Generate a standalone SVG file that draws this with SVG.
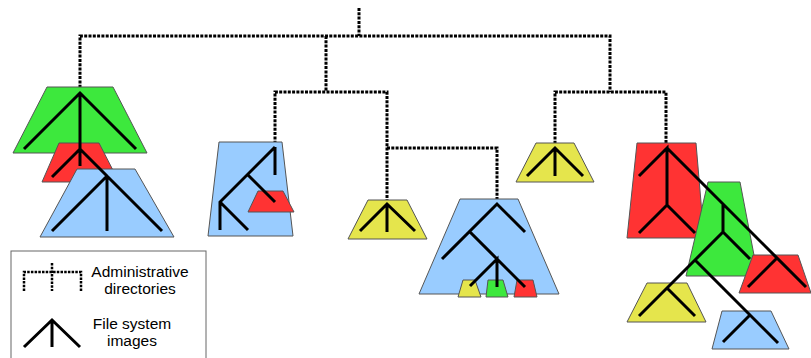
<svg xmlns="http://www.w3.org/2000/svg" width="811" height="358" viewBox="0 0 811 358">
<style>
.g{fill:#3de83d;stroke:#555;stroke-width:1}
.r{fill:#ff3333;stroke:#555;stroke-width:1}
.b{fill:#99ccff;stroke:#555;stroke-width:1}
.y{fill:#e5e54c;stroke:#555;stroke-width:1}
.t{fill:none;stroke:#000;stroke-width:3}
.d{fill:none;stroke:#000;stroke-width:3;stroke-dasharray:3 1.3}
.dl{fill:none;stroke:#000;stroke-width:2.5;stroke-dasharray:2.5 1.2}
.lbl{font-family:"Liberation Sans",Arial,sans-serif;font-size:15.5px;fill:#000;text-anchor:middle}
</style>
<rect width="811" height="358" fill="#fff"/>
<g id="connectors">
<path class="d" d="M359 8V36M80 92V36H610V92M326 36V92M275 148V92H387V203M387 148H497V204M555 148V92H666V148"/>
</g>
<g id="image-left">
<polygon class="g" points="47,87 113,87 147,153 13,153"/>
<polygon class="r" points="59,143 99,143 119,182 42,182"/>
<polygon class="b" points="77,169 135,169 174,237 40,237"/>
<path class="t" d="M24,149L80,93L136,149M80,93V166M52,177L80,149L107,176M52,231L107,176L162,231M107,176V231"/>
</g>
<g id="image-blue2">
<polygon class="b" points="219,142 282,142 293,236 208,236"/>
<polygon class="r" points="258,191 283,191 294,212 248,212"/>
<path class="t" d="M275,147V175M275,147L220,202V230M247,174L275,202M220,202L248,230"/>
</g>
<g id="image-yellow1">
<polygon class="y" points="368,200 407,200 427,239 348,239"/>
<path class="t" d="M360,231L387,204L415,231M387,204V232"/>
</g>
<g id="image-blue-mid">
<polygon class="b" points="460,199 518,199 559,294 419,294"/>
<polygon class="y" points="463,280 475,280 481,297 458,297"/>
<polygon class="g" points="488,280 503,280 508,297 486,297"/>
<polygon class="r" points="517,280 533,280 537,297 514,297"/>
<path class="t" d="M442,259L497,204L525,232M469,231L525,287M470,286L497,259V287"/>
</g>
<g id="image-yellow2">
<polygon class="y" points="536,143 574,143 594,182 516,182"/>
<path class="t" d="M527,176L555,148L583,176M555,148V176"/>
</g>
<g id="image-right">
<polygon class="r" points="637,143 696,143 704,238 627,238"/>
<polygon class="g" points="708,182 740,182 758,276 686,276"/>
<polygon class="r" points="753,255 798,255 811,293 739,293"/>
<polygon class="y" points="647,283 687,283 706,322 627,322"/>
<polygon class="b" points="722,311 771,311 789,349 712,349"/>
<path class="t" d="M639,176L667,148V205M639,233L667,205L695,233M667,148L806,287M748,287L777,258M723,204V232L750,259M723,232L695,260L639,316M695,260L778,343M667,288L695,316M723,342L750,315"/>
</g>
<g id="legend">
<rect x="11" y="251" width="195" height="120" fill="#fff" stroke="#666" stroke-width="1"/>
<path class="dl" d="M24 291V272H81V291M52 263V291"/>
<path class="t" d="M24,347L52,320L80,347M52,320V347"/>
<text class="lbl" x="140" y="277">Administrative</text>
<text class="lbl" x="140" y="294">directories</text>
<text class="lbl" x="132" y="329">File system</text>
<text class="lbl" x="132" y="346">images</text>
</g>
</svg>
